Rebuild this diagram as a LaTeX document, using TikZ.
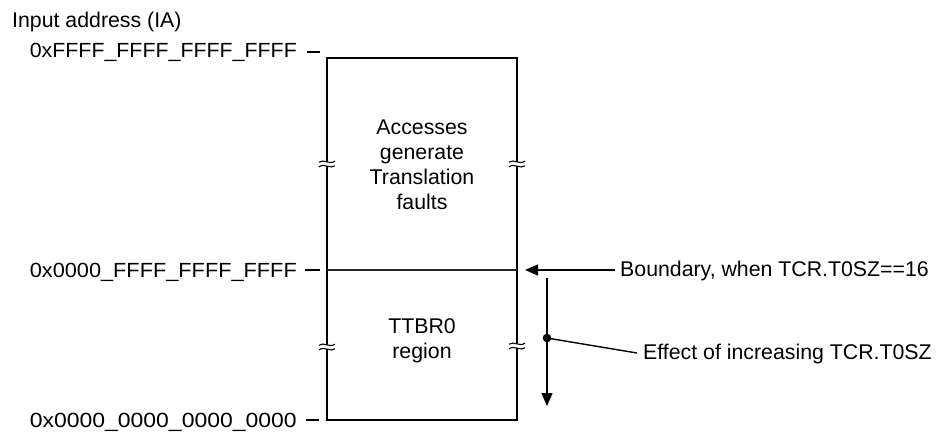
\documentclass[tikz,border=0pt]{standalone}
\usepackage{fontspec}
\setmainfont{Liberation Sans}
\usetikzlibrary{arrows.meta}
\tikzset{
  lbl/.style={inner sep=0pt, font=\fontsize{21.3}{25}\selectfont},
  addr/.style={inner sep=0pt, anchor=base east, font=\fontsize{20.5}{24}\selectfont},
  tick/.style={line width=1.4pt},
  boxline/.style={line width=1.5pt},
  conn/.style={line width=1.4pt},
  arr/.style={conn, -{Triangle[length=13pt,width=11pt]}},
  brk/.pic={
    \fill[white] (-2.5,-2.4) rectangle (2.5,2.4);
    \draw[line width=1.1pt] (-8,-1.8) .. controls (-3,-5.5) and (2,1.2) .. (8,-2.8);
    \draw[line width=1.1pt] (-8,2.8) .. controls (-2,-1.2) and (3,5.5) .. (8,1.8);
  }
}
\newcommand{\addrtext}[1]{\resizebox{267pt}{\height}{#1}}
\begin{document}
\begin{tikzpicture}[x=1pt,y=-1pt]
\useasboundingbox (0,0) rectangle (939,432);
% title
\node[lbl, anchor=west] (title) at (12,22) {Input address (IA)};
% box
\coordinate (tl) at (327,58);
\coordinate (tr) at (517,58);
\coordinate (bl) at (327,420);
\coordinate (br) at (517,420);
\coordinate (ml) at (327,270);
\coordinate (mr) at (517,270);
\draw[boxline] (tl) rectangle (br);
\draw[boxline, black!85] (ml) -- (mr);
% breaks
\pic at (327,164) {brk};
\pic at (517,164) {brk};
\pic at (327,347) {brk};
\pic at (517,346) {brk};
% address labels
\node[addr] (a1) at (297,57) {\addrtext{0xFFFF\_FFFF\_FFFF\_FFFF}};
\node[addr] (a2) at (297,277) {\addrtext{0x0000\_FFFF\_FFFF\_FFFF}};
\node[addr] (a3) at (297,427) {\addrtext{0x0000\_0000\_0000\_0000}};
\coordinate (t1a) at (307,52); \coordinate (t1b) at (320,52);
\coordinate (t2a) at (305,270); \coordinate (t2b) at (320,270);
\coordinate (t3a) at (306,420); \coordinate (t3b) at (319,420);
\draw[tick] (t1a) -- (t1b);
\draw[tick] (t2a) -- (t2b);
\draw[tick] (t3a) -- (t3b);
% region texts
\node[lbl, align=center] (upper) at (422,165) {Accesses\\generate\\Translation\\faults};
\node[lbl, align=center] (lower) at (422,341) {TTBR0\\region};
% boundary annotation
\node[lbl, anchor=base west] (bnd) at (620,276) {Boundary, when TCR.T0SZ==16};
\coordinate (bndtip) at (525,270);
\draw[arr] (bnd.west |- 0,270) ++(-5,0) -- (bndtip);
% effect annotation
\coordinate (vtop) at (547,278);
\coordinate (vbot) at (547,406);
\coordinate (dot) at (547,338);
\draw[arr] (vtop) -- (vbot);
\fill (dot) circle (4.3);
\node[lbl, anchor=base west] (eff) at (643,359) {Effect of increasing TCR.T0SZ};
\draw[conn] (dot) -- (637,353);
\end{tikzpicture}
\end{document}
